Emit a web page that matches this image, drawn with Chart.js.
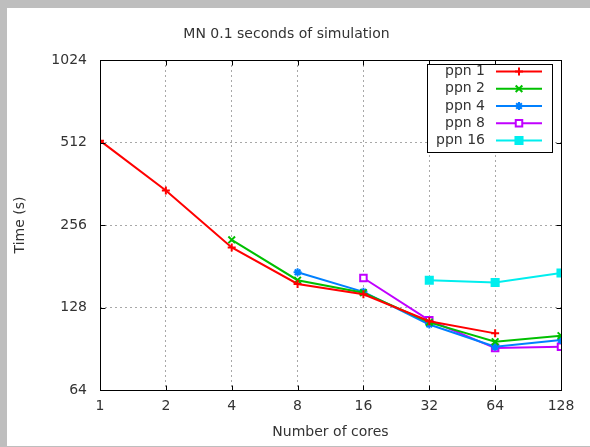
<!DOCTYPE html>
<html>
<head>
<meta charset="utf-8">
<title>MN 0.1 seconds of simulation</title>
<script src="https://cdn.jsdelivr.net/npm/chart.js@4/dist/chart.umd.min.js"></script>
<style>
  html, body { margin: 0; padding: 0; background: #bebebe; }
  #wrap { position: absolute; left: 7px; top: 8px; width: 583px; height: 438px; background: #fff; }
</style>
</head>
<body>
<div id="wrap"><canvas id="chart" width="583" height="438"></canvas></div>
<script>
// ===== DATA =====
const cores = [1, 2, 4, 8, 16, 32, 64, 128];
const timeTicks = [64, 128, 256, 512, 1024];

const seriesNames = ["ppn 1", "ppn 2", "ppn 4", "ppn 8", "ppn 16"];
const ppn1  = [520, 342, 212, 156, 143, 114, 103, null];
const ppn2  = [null, null, 226, 161, 145, 113, 96, 101];
const ppn4  = [null, null, null, 172, 146, 111, 92, 97.5];
const ppn8  = [null, null, null, null, 164, 115, 91, 92];
const ppn16 = [null, null, null, null, null, 161, 158, 171];
const seriesValues = [ppn1, ppn2, ppn4, ppn8, ppn16];

// ===== STYLE =====
const lineStyles = [
  { color: "#ff0000", point: "cross",    radius: 4,   fill: "#ff0000" },
  { color: "#00c000", point: "crossRot", radius: 4.7, fill: "#00c000" },
  { color: "#0080ff", point: "star",     radius: 4,   fill: "#0080ff" },
  { color: "#c000ff", point: "rect",     radius: 4.6, fill: "#ffffff" },
  { color: "#00eeee", point: "rect",     radius: 5,   fill: "#00eeee" }
];
const LINE_W = 2;
const FONT = "'DejaVu Sans', sans-serif";
const TEXT = "#333";

Chart.defaults.font.family = FONT;
Chart.defaults.font.size = 14;
Chart.defaults.color = TEXT;

const datasets = seriesNames.map((name, i) => {
  const s = lineStyles[i];
  return {
    label: name,
    data: cores
      .map((c, j) => ({ x: c, y: seriesValues[i][j] }))
      .filter(p => p.y !== null),
    borderColor: s.color,
    backgroundColor: s.fill,
    borderWidth: LINE_W,
    pointStyle: s.point,
    pointRadius: s.radius,
    pointBorderWidth: 2,
    pointBorderColor: s.color,
    pointBackgroundColor: s.fill,
    tension: 0,
    fill: false
  };
});

// box round the plot + gnuplot style inner tick marks
const framePlugin = {
  id: "frame",
  afterDatasetsDraw(chart) {
    const { ctx, chartArea: a, scales } = chart;
    const L = Math.round(a.left) + 0.5, R = Math.round(a.right) + 0.5;
    const T = Math.round(a.top) + 0.5, B = Math.round(a.bottom) + 0.5;
    ctx.save();
    ctx.strokeStyle = "#000";
    ctx.lineWidth = 1;
    ctx.beginPath();
    cores.forEach(v => {
      const x = Math.round(scales.x.getPixelForValue(v)) + 0.5;
      ctx.moveTo(x, B); ctx.lineTo(x, B - 5);
      ctx.moveTo(x, T); ctx.lineTo(x, T + 5);
    });
    timeTicks.forEach(v => {
      const y = Math.round(scales.y.getPixelForValue(v)) + 0.5;
      ctx.moveTo(L, y); ctx.lineTo(L + 5, y);
      ctx.moveTo(R, y); ctx.lineTo(R - 5, y);
    });
    ctx.stroke();
    ctx.strokeRect(L, T, R - L, B - T);
    ctx.restore();
  }
};

// key in the top right corner: text, then line sample with marker
const keyPlugin = {
  id: "key",
  afterDraw(chart) {
    const { ctx, chartArea: a } = chart;
    const right = Math.round(a.right) - 9, top = Math.round(a.top) + 4;
    const w = 125, h = 88, rowH = 17.25;
    ctx.save();
    ctx.fillStyle = "#fff";
    ctx.fillRect(right - w, top, w, h);
    ctx.strokeStyle = "#000";
    ctx.lineWidth = 1;
    ctx.strokeRect(right - w + 0.5, top + 0.5, w, h);

    ctx.font = "14px " + FONT;
    ctx.textAlign = "right";
    ctx.textBaseline = "middle";
    chart.data.datasets.forEach((ds, i) => {
      const y = top + 7.5 + i * rowH;
      ctx.fillStyle = TEXT;
      ctx.fillText(ds.label, right - 67, y);

      ctx.strokeStyle = ds.borderColor;
      ctx.lineWidth = LINE_W;
      ctx.beginPath();
      ctx.moveTo(right - 56, y);
      ctx.lineTo(right - 10, y);
      ctx.stroke();

      ctx.fillStyle = ds.pointBackgroundColor;
      ctx.lineWidth = ds.pointBorderWidth;
      Chart.helpers.drawPoint(ctx, {
        pointStyle: ds.pointStyle,
        radius: ds.pointRadius,
        rotation: 0,
        borderWidth: ds.pointBorderWidth
      }, right - 33, y);
    });
    ctx.restore();
  }
};

new Chart(document.getElementById("chart"), {
  type: "line",
  data: { datasets },
  plugins: [framePlugin, keyPlugin],
  options: {
    responsive: false,
    animation: false,
    events: [],
    layout: { padding: { left: 0, right: 24, top: 0, bottom: 0 } },
    plugins: {
      legend: { display: false },
      tooltip: { enabled: false },
      title: {
        display: true,
        text: "MN 0.1 seconds of simulation",
        color: TEXT,
        font: { size: 14, weight: "normal" },
        padding: { top: 18, bottom: 17.2 }
      }
    },
    scales: {
      x: {
        type: "logarithmic",
        min: 1,
        max: 128,
        afterBuildTicks: s => { s.ticks = cores.map(v => ({ value: v })); },
        afterFit: s => { s.height = 56; s.paddingRight = 29; },
        ticks: { autoSkip: false, maxRotation: 0, padding: 8, callback: v => String(v) },
        grid: { color: "#a8a8a8", drawTicks: false, lineWidth: 1 },
        border: { display: false, dash: [2, 3] },
        title: { display: true, text: "Number of cores", padding: { top: 0, bottom: 5 } }
      },
      y: {
        type: "logarithmic",
        min: 64,
        max: 1024,
        afterBuildTicks: s => { s.ticks = timeTicks.map(v => ({ value: v })); },
        afterFit: s => { s.width = 93; },
        ticks: { padding: 13, callback: v => String(v) },
        grid: { color: "#a8a8a8", drawTicks: false, lineWidth: 1 },
        border: { display: false, dash: [2, 3] },
        title: { display: true, text: "Time (s)", padding: { top: 4.6, bottom: 0 } }
      }
    }
  }
});
</script>
</body>
</html>
